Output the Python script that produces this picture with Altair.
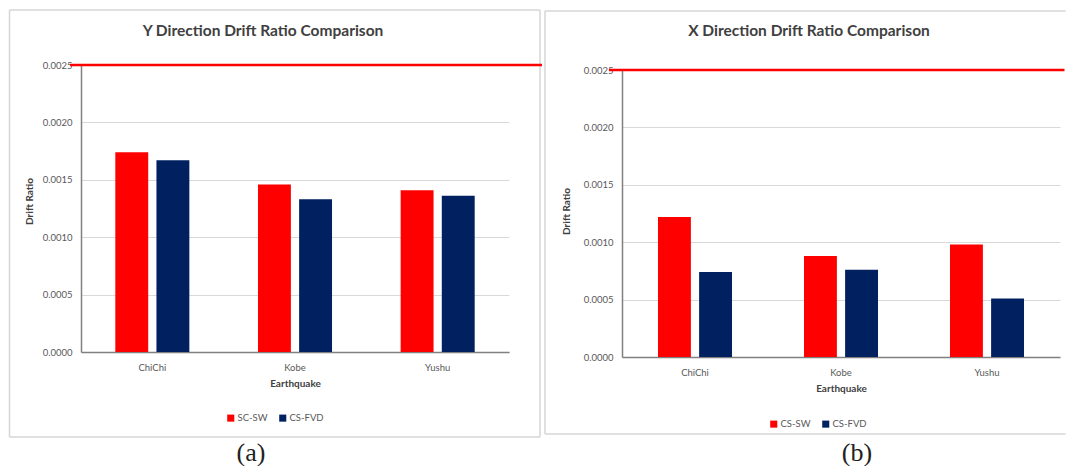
import altair as alt
import pandas as pd

categories = ["ChiChi", "Kobe", "Yushu"]
y_series = ["SC-SW", "CS-FVD"]
y_sc_sw = [0.00174, 0.00146, 0.00141]
y_cs_fvd = [0.00167, 0.00133, 0.00136]
x_series = ["CS-SW", "CS-FVD"]
x_cs_sw = [0.00122, 0.00088, 0.00098]
x_cs_fvd = [0.00074, 0.00076, 0.00051]
limit_value = [0.0025]
y_ticks = [0.0, 0.0005, 0.0010, 0.0015, 0.0020, 0.0025]

RED = "#ff0000"
NAVY = "#002060"
FONT = "Lato"
FRAME = "#d6d6d6"


def frame_lines(one, x1, x2, y1, y2, right_side):
    base = alt.Chart(one).mark_rule(color=FRAME, strokeWidth=1.5)
    parts = [
        base.encode(x=alt.value(x1), x2=alt.value(x2), y=alt.value(y1)),
        base.encode(x=alt.value(x1), x2=alt.value(x2), y=alt.value(y2)),
        base.encode(x=alt.value(x1), y=alt.value(y1), y2=alt.value(y2)),
    ]
    if right_side:
        parts.append(base.encode(x=alt.value(x2), y=alt.value(y1), y2=alt.value(y2)))
    return parts


def panel(series, s1, s2, title, caption, W, H, y_range, p_inner, geo):
    rows = []
    for c, a, b in zip(categories, s1, s2):
        rows.append({"Earthquake": c, "Series": series[0], "Value": a})
        rows.append({"Earthquake": c, "Series": series[1], "Value": b})
    df = pd.DataFrame(rows)
    one = pd.DataFrame({"k": [0]})
    lim = pd.DataFrame({"Limit": limit_value})

    border = frame_lines(one, geo["bx1"], geo["bx2"], geo["by1"], geo["by2"], geo["rside"])

    bars = alt.Chart(df).mark_bar().encode(
        x=alt.X(
            "Earthquake:N", sort=categories,
            scale=alt.Scale(paddingInner=p_inner, paddingOuter=p_inner / 2),
            axis=alt.Axis(
                title="Earthquake", labelAngle=0, ticks=False, labelPadding=10,
                labelFont=FONT, labelFontSize=9.5, labelColor="#595959",
                domainColor="#808080", domainWidth=1.5, grid=False,
                titleFont=FONT, titleFontSize=10, titleFontWeight="bold",
                titleColor="#404040", titlePadding=7,
            ),
        ),
        xOffset=alt.XOffset(
            "Series:N", sort=series,
            scale=alt.Scale(paddingInner=0.2, paddingOuter=0),
        ),
        y=alt.Y(
            "Value:Q",
            scale=alt.Scale(domain=[0, 0.0025], nice=False, range=y_range),
            axis=alt.Axis(
                values=y_ticks, format=".4f", ticks=False, labelPadding=9,
                labelFont=FONT, labelFontSize=9.5, labelColor="#595959",
                domainColor="#808080", domainWidth=1.5,
                gridColor="#d9d9d9", gridWidth=1,
                title="Drift Ratio", titleFont=FONT, titleFontSize=10,
                titleFontWeight="bold", titleColor="#404040",
                titleX=geo["tx"], titleY=geo["ty"],
            ),
        ),
        color=alt.Color(
            "Series:N",
            scale=alt.Scale(domain=series, range=[RED, NAVY]),
            legend=alt.Legend(
                title=None, orient="none", direction="horizontal",
                legendX=geo["lx"], legendY=geo["ly"], symbolType="square",
                symbolSize=50, symbolStrokeWidth=0, labelFont=FONT,
                labelFontSize=9.5, labelColor="#595959", columnPadding=10,
                labelOffset=2,
            ),
        ),
    )

    rule = alt.Chart(lim).mark_rule(color=RED, strokeWidth=2.5).encode(
        y="Limit:Q", x=alt.value(geo["rx1"]), x2=alt.value(geo["rx2"]),
    )

    ttl = alt.Chart(one).mark_text(
        text=title, font=FONT, fontSize=15.5, fontWeight="bold",
        color="#404040", align="center", baseline="alphabetic",
    ).encode(x=alt.value(geo["hx"]), y=alt.value(geo["hy"]))

    cap = alt.Chart(one).mark_text(
        text=caption, font="Liberation Serif", fontSize=26,
        color="#222222", align="center", baseline="alphabetic",
    ).encode(x=alt.value(geo["cx"]), y=alt.value(geo["cy"]))

    return alt.layer(*border, bars, rule, ttl, cap).properties(width=W, height=H)


left = panel(
    y_series, y_sc_sw, y_cs_fvd, "Y Direction Drift Ratio Comparison", "(a)",
    428, 287, [287, 0], 0.481,
    dict(bx1=-71.5, bx2=459, by1=-55, by2=372, rside=True, tx=-47, ty=136,
         lx=145, ly=348, rx1=-11, rx2=461, hx=182, hy=-29, cx=170, cy=396),
)
right = panel(
    x_series, x_cs_sw, x_cs_fvd, "X Direction Drift Ratio Comparison", "(b)",
    438, 292, [292, 5], 0.493,
    dict(bx1=-77, bx2=443.5, by1=-54, by2=369, rside=False, tx=-51, ty=146,
         lx=147, ly=354, rx1=-13, rx2=442.5, hx=187, hy=-29, cx=235, cy=396),
)

chart = alt.hconcat(left, right, spacing=0).resolve_scale(
    color="independent", x="independent", y="independent", xOffset="independent"
).properties(
    padding={"left": 0, "top": 1, "right": 0, "bottom": 0},
    background="white",
).configure_view(strokeWidth=0)

chart.save("out.html", embed_options={"renderer": "svg", "actions": False})
